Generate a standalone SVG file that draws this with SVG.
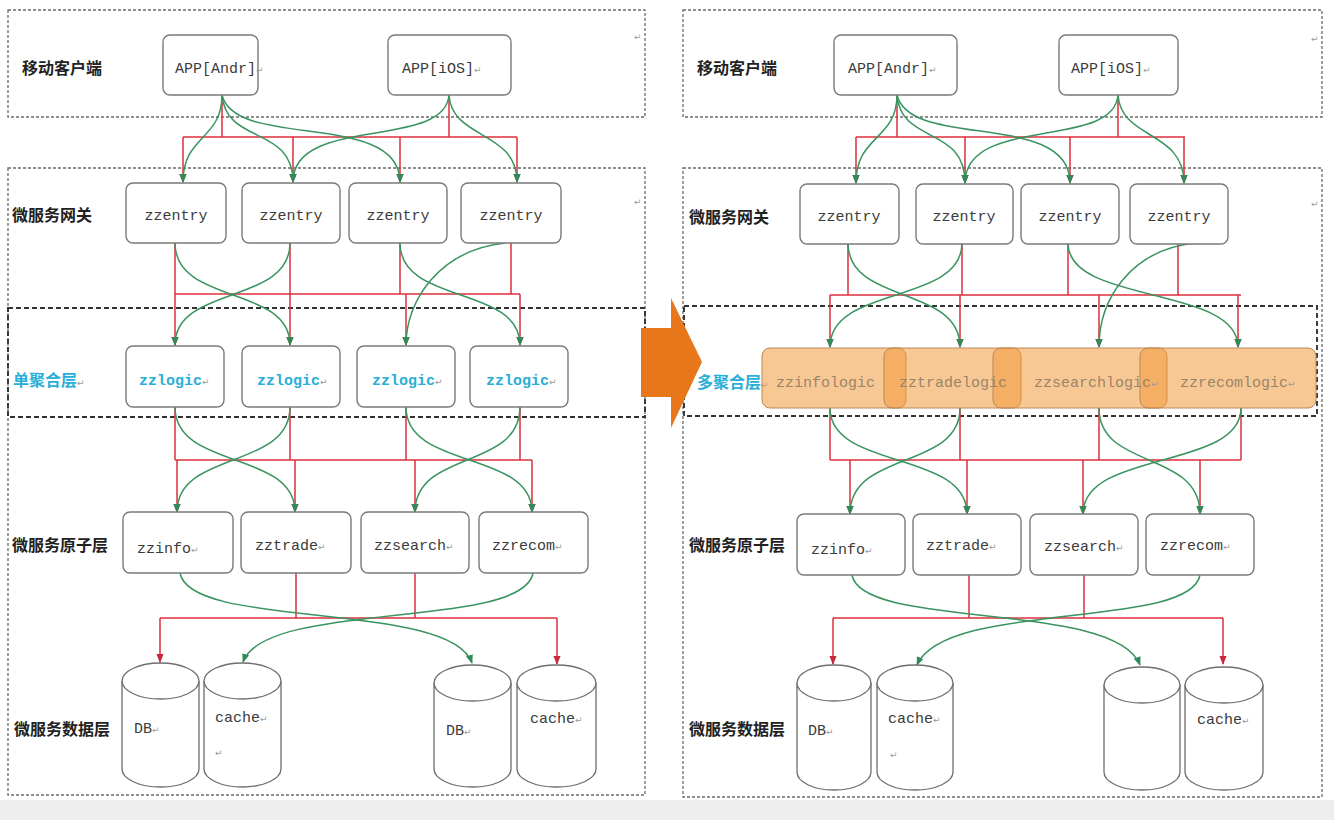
<svg xmlns="http://www.w3.org/2000/svg" width="1334" height="820" viewBox="0 0 1334 820">
<defs>
<style>
.frame{fill:none;stroke:#6a6a6a;stroke-width:1.3;stroke-dasharray:3 2}
.lframe{fill:none;stroke:#333;stroke-width:1.9;stroke-dasharray:5 3}
.box{fill:#fff;stroke:#7a7a7a;stroke-width:1.4}
.cyl{fill:#fff;stroke:#6e6e6e;stroke-width:1.3}
.t{font-family:"Liberation Mono","DejaVu Sans Mono",monospace;font-size:15px;fill:#3c3c3c}
.tc{text-anchor:middle}
.lg{font-family:"Liberation Mono","DejaVu Sans Mono",monospace;font-size:15px;font-weight:700;fill:#2aaed6}
.bt{font-family:"Liberation Mono","DejaVu Sans Mono",monospace;font-size:15px;fill:#9a8468}
.pm{font-family:"DejaVu Sans",sans-serif;font-size:9px;fill:#9a9a9a;font-weight:400}
.lbl{font-family:"Noto Sans CJK SC","Noto Sans CJK JP",sans-serif;font-weight:700;font-size:16px;fill:#222}
.cyan{fill:#2aaed6}
.red{fill:none;stroke:#de2f3d;stroke-width:1.5}
.ra{fill:none;stroke:#de2f3d;stroke-width:1.5;marker-end:url(#mr)}
.gr{fill:none;stroke:#3a9460;stroke-width:1.5;marker-end:url(#mg)}
.seg{fill:#f39a3c;fill-opacity:0.55;stroke:#b8875a;stroke-width:1}
</style>
<marker id="mr" viewBox="0 0 10 10" refX="9" refY="5" markerWidth="9" markerHeight="9" orient="auto" markerUnits="userSpaceOnUse"><path d="M0,1 L10,5 L0,9 z" fill="#c8283a"/></marker>
<marker id="mg" viewBox="0 0 10 10" refX="9" refY="5" markerWidth="9" markerHeight="9" orient="auto" markerUnits="userSpaceOnUse"><path d="M0,1 L10,5 L0,9 z" fill="#2f8a58"/></marker>
</defs>
<rect width="1334" height="820" fill="#fff"/>
<rect y="800" width="1334" height="20" fill="#eeeeee"/>

<g id="frames">
<rect class="frame" x="8" y="10" width="637" height="107"/>
<rect class="frame" x="8" y="168" width="637" height="627"/>
<rect class="lframe" x="8" y="308" width="637" height="109"/>
<rect class="frame" x="683" y="10" width="639" height="107"/>
<rect class="frame" x="683" y="168" width="639" height="629"/>
<rect class="lframe" x="684" y="306" width="633" height="110"/>
<text class="pm" x="634" y="40">↵</text>
<text class="pm" x="634" y="205">↵</text>
<text class="pm" x="1311" y="42">↵</text>
<text class="pm" x="1311" y="207">↵</text>
</g>

<g id="bigArrow">
<polygon points="641,328 671,328 671,298 702,362 671,428 671,397 641,397" fill="#e8761a"/>
</g>

<g id="labels">
<text class="lbl" x="22" y="74">移动客户端</text>
<text class="lbl" x="12" y="221">微服务网关</text>
<text class="lbl cyan" x="13" y="386">单聚合层<tspan class="pm">↵</tspan></text>
<text class="lbl" x="12" y="551">微服务原子层</text>
<text class="lbl" x="14" y="735">微服务数据层</text>
<text class="lbl" x="697" y="74">移动客户端</text>
<text class="lbl" x="689" y="223">微服务网关</text>
<text class="lbl cyan" x="697" y="388">多聚合层<tspan class="pm">↵</tspan></text>
<text class="lbl" x="689" y="551">微服务原子层</text>
<text class="lbl" x="689" y="735">微服务数据层</text>
</g>

<g id="connectors">
<!-- left: clients to gateway -->
<path class="red" d="M222,95 V137 M449,95 V137 M183,137 H517"/>
<path class="ra" d="M183,137 V182"/><path class="ra" d="M293,137 V182"/><path class="ra" d="M400,137 V182"/><path class="ra" d="M517,137 V182"/>
<path class="gr" d="M222,95 C222,140 183,135 183,182"/>
<path class="gr" d="M222,95 C226,145 293,125 293,182"/>
<path class="gr" d="M222,95 C235,150 400,110 400,182"/>
<path class="gr" d="M449,95 C445,150 293,115 293,182"/>
<path class="gr" d="M449,95 C452,140 517,130 517,182"/>
<!-- left: gateway to logic -->
<path class="red" d="M175,243 V294 M290,243 V294 M400,243 V294 M511,243 V294 M175,294 H520"/>
<path class="ra" d="M175,294 V345"/><path class="ra" d="M290,294 V345"/><path class="ra" d="M406,294 V345"/><path class="ra" d="M520,294 V345"/>
<path class="gr" d="M175,243 C175,305 290,285 290,345"/>
<path class="gr" d="M290,243 C290,305 175,285 175,345"/>
<path class="gr" d="M400,243 C400,305 520,285 520,345"/>
<path class="gr" d="M505,243 C440,250 406,300 406,345"/>
<!-- left: logic to atoms -->
<path class="red" d="M175,407 V460 M290,407 V460 M406,407 V460 M520,407 V460 M175,460 H532"/>
<path class="ra" d="M177,460 V512"/><path class="ra" d="M295,460 V512"/><path class="ra" d="M415,460 V512"/><path class="ra" d="M532,460 V512"/>
<path class="gr" d="M175,407 C175,470 295,450 295,512"/>
<path class="gr" d="M290,407 C290,470 177,450 177,512"/>
<path class="gr" d="M406,407 C406,470 532,450 532,512"/>
<path class="gr" d="M520,407 C520,470 415,450 415,512"/>
<!-- left: atoms to data -->
<path class="red" d="M296,573 V618 M415,573 V618 M160,618 H557"/>
<path class="ra" d="M160,618 V662"/><path class="ra" d="M557,618 V664"/>
<path class="gr" d="M180,573 C190,630 450,600 472,663"/>
<path class="gr" d="M533,573 C523,630 265,600 243,662"/>

<!-- right: clients to gateway -->
<path class="red" d="M897,95 V137 M1118,95 V137 M856,137 H1185"/>
<path class="ra" d="M856,137 V183"/><path class="ra" d="M965,137 V183"/><path class="ra" d="M1070,137 V183"/><path class="ra" d="M1184,137 V183"/>
<path class="gr" d="M897,95 C897,140 856,135 856,183"/>
<path class="gr" d="M897,95 C901,145 965,125 965,183"/>
<path class="gr" d="M897,95 C910,150 1070,110 1070,183"/>
<path class="gr" d="M1118,95 C1114,150 965,115 965,183"/>
<path class="gr" d="M1118,95 C1121,140 1184,130 1184,183"/>
<!-- right: gateway to logic -->
<path class="red" d="M848,243 V295 M962,243 V295 M1068,243 V295 M1178,243 V295 M830,295 H1241"/>
<path class="ra" d="M830,295 V347"/><path class="ra" d="M960,295 V347"/><path class="ra" d="M1099,295 V347"/><path class="ra" d="M1238,295 V347"/>
<path class="gr" d="M848,243 C848,305 960,285 960,347"/>
<path class="gr" d="M962,243 C962,305 830,285 830,347"/>
<path class="gr" d="M1068,243 C1068,305 1238,285 1238,347"/>
<path class="gr" d="M1195,243 C1130,250 1099,300 1099,347"/>
<!-- right: logic to atoms -->
<path class="red" d="M830,408 V460 M960,408 V460 M1099,408 V460 M1241,408 V460 M830,460 H1241"/>
<path class="ra" d="M850,460 V514"/><path class="ra" d="M967,460 V514"/><path class="ra" d="M1083,460 V514"/><path class="ra" d="M1200,460 V514"/>
<path class="gr" d="M830,408 C830,470 967,450 967,514"/>
<path class="gr" d="M960,408 C960,470 850,450 850,514"/>
<path class="gr" d="M1099,408 C1099,470 1200,450 1200,514"/>
<path class="gr" d="M1241,408 C1241,470 1083,450 1083,514"/>
<!-- right: atoms to data -->
<path class="red" d="M969,575 V618 M1084,575 V618 M833,618 H1223"/>
<path class="ra" d="M833,618 V664"/><path class="ra" d="M1223,618 V664"/>
<path class="gr" d="M852,575 C862,630 1115,600 1140,665"/>
<path class="gr" d="M1200,575 C1190,630 945,600 917,665"/>
</g>

<!-- left nodes -->
<g id="L-app-andr"><rect class="box" x="163" y="35" width="95" height="60" rx="7"/><text class="t" x="175" y="73">APP[Andr]<tspan class="pm">↵</tspan></text></g>
<g id="L-app-ios"><rect class="box" x="388" y="35" width="123" height="60" rx="7"/><text class="t" x="402" y="73">APP[iOS]<tspan class="pm">↵</tspan></text></g>
<g id="L-entry1"><rect class="box" x="126" y="183" width="100" height="60" rx="7"/><text class="t tc" x="176" y="220">zzentry</text></g>
<g id="L-entry2"><rect class="box" x="242" y="183" width="98" height="60" rx="7"/><text class="t tc" x="291" y="220">zzentry</text></g>
<g id="L-entry3"><rect class="box" x="349" y="183" width="98" height="60" rx="7"/><text class="t tc" x="398" y="220">zzentry</text></g>
<g id="L-entry4"><rect class="box" x="461" y="183" width="100" height="60" rx="7"/><text class="t tc" x="511" y="220">zzentry</text></g>
<g id="L-logic1"><rect class="box" x="126" y="346" width="98" height="61" rx="7"/><text class="lg" x="139" y="385">zzlogic<tspan class="pm">↵</tspan></text></g>
<g id="L-logic2"><rect class="box" x="242" y="346" width="98" height="61" rx="7"/><text class="lg" x="257" y="385">zzlogic<tspan class="pm">↵</tspan></text></g>
<g id="L-logic3"><rect class="box" x="357" y="346" width="98" height="61" rx="7"/><text class="lg" x="372" y="385">zzlogic<tspan class="pm">↵</tspan></text></g>
<g id="L-logic4"><rect class="box" x="470" y="346" width="98" height="61" rx="7"/><text class="lg" x="486" y="385">zzlogic<tspan class="pm">↵</tspan></text></g>
<g id="L-zzinfo"><rect class="box" x="123" y="512" width="110" height="61" rx="7"/><text class="t" x="137" y="553">zzinfo<tspan class="pm">↵</tspan></text></g>
<g id="L-zztrade"><rect class="box" x="241" y="512" width="110" height="61" rx="7"/><text class="t" x="255" y="550">zztrade<tspan class="pm">↵</tspan></text></g>
<g id="L-zzsearch"><rect class="box" x="361" y="512" width="108" height="61" rx="7"/><text class="t" x="374" y="550">zzsearch<tspan class="pm">↵</tspan></text></g>
<g id="L-zzrecom"><rect class="box" x="479" y="512" width="109" height="61" rx="7"/><text class="t" x="492" y="550">zzrecom<tspan class="pm">↵</tspan></text></g>
<g id="L-db1"><path class="cyl" d="M122,681 V769 A38.5,18 0 0 0 199,769 V681"/><ellipse class="cyl" cx="160.5" cy="681" rx="38.5" ry="18"/><text class="t" x="134" y="733">DB<tspan class="pm">↵</tspan></text></g>
<g id="L-cache1"><path class="cyl" d="M204,681 V769 A38.5,18 0 0 0 281,769 V681"/><ellipse class="cyl" cx="242.5" cy="681" rx="38.5" ry="18"/><text class="t" x="215" y="722">cache<tspan class="pm">↵</tspan></text><text class="pm" x="215" y="756">↵</text></g>
<g id="L-db2"><path class="cyl" d="M434,683 V769 A38.5,18 0 0 0 511,769 V683"/><ellipse class="cyl" cx="472.5" cy="683" rx="38.5" ry="18"/><text class="t" x="446" y="735">DB<tspan class="pm">↵</tspan></text></g>
<g id="L-cache2"><path class="cyl" d="M517,683 V769 A39.5,18 0 0 0 596,769 V683"/><ellipse class="cyl" cx="556.5" cy="683" rx="39.5" ry="18"/><text class="t" x="530" y="723">cache<tspan class="pm">↵</tspan></text></g>

<!-- right nodes -->
<g id="R-app-andr"><rect class="box" x="834" y="35" width="123" height="60" rx="7"/><text class="t" x="848" y="73">APP[Andr]<tspan class="pm">↵</tspan></text></g>
<g id="R-app-ios"><rect class="box" x="1059" y="35" width="119" height="60" rx="7"/><text class="t" x="1071" y="73">APP[iOS]<tspan class="pm">↵</tspan></text></g>
<g id="R-entry1"><rect class="box" x="800" y="184" width="99" height="60" rx="7"/><text class="t tc" x="849" y="221">zzentry</text></g>
<g id="R-entry2"><rect class="box" x="916" y="184" width="97" height="60" rx="7"/><text class="t tc" x="964" y="221">zzentry</text></g>
<g id="R-entry3"><rect class="box" x="1021" y="184" width="98" height="60" rx="7"/><text class="t tc" x="1070" y="221">zzentry</text></g>
<g id="R-entry4"><rect class="box" x="1130" y="184" width="98" height="60" rx="7"/><text class="t tc" x="1179" y="221">zzentry</text></g>
<g id="R-logic">
<rect class="seg" x="762" y="348" width="144" height="60" rx="8"/>
<rect class="seg" x="884" y="348" width="137" height="60" rx="8"/>
<rect class="seg" x="993" y="348" width="174" height="60" rx="8"/>
<rect class="seg" x="1140" y="348" width="176" height="60" rx="8"/>
<text class="bt" x="776" y="387">zzinfologic</text>
<text class="bt" x="899" y="387">zztradelogic</text>
<text class="bt" x="1034" y="387">zzsearchlogic<tspan class="pm">↵</tspan></text>
<text class="bt" x="1180" y="387">zzrecomlogic<tspan class="pm">↵</tspan></text>
</g>
<g id="R-zzinfo"><rect class="box" x="797" y="514" width="108" height="61" rx="7"/><text class="t" x="811" y="554">zzinfo<tspan class="pm">↵</tspan></text></g>
<g id="R-zztrade"><rect class="box" x="913" y="514" width="108" height="61" rx="7"/><text class="t" x="926" y="550">zztrade<tspan class="pm">↵</tspan></text></g>
<g id="R-zzsearch"><rect class="box" x="1030" y="514" width="108" height="61" rx="7"/><text class="t" x="1044" y="551">zzsearch<tspan class="pm">↵</tspan></text></g>
<g id="R-zzrecom"><rect class="box" x="1146" y="514" width="108" height="61" rx="7"/><text class="t" x="1160" y="550">zzrecom<tspan class="pm">↵</tspan></text></g>
<g id="R-db1"><path class="cyl" d="M797,683 V772 A37,18 0 0 0 871,772 V683"/><ellipse class="cyl" cx="834" cy="683" rx="37" ry="18"/><text class="t" x="808" y="735">DB<tspan class="pm">↵</tspan></text></g>
<g id="R-cache1"><path class="cyl" d="M877,683 V772 A38,18 0 0 0 953,772 V683"/><ellipse class="cyl" cx="915" cy="683" rx="38" ry="18"/><text class="t" x="888" y="723">cache<tspan class="pm">↵</tspan></text><text class="pm" x="890" y="758">↵</text></g>
<g id="R-db2"><path class="cyl" d="M1104,685 V772 A38,18 0 0 0 1180,772 V685"/><ellipse class="cyl" cx="1142" cy="685" rx="38" ry="18"/></g>
<g id="R-cache2"><path class="cyl" d="M1185,685 V772 A39,18 0 0 0 1263,772 V685"/><ellipse class="cyl" cx="1224" cy="685" rx="39" ry="18"/><text class="t" x="1197" y="724">cache<tspan class="pm">↵</tspan></text></g>
</svg>
